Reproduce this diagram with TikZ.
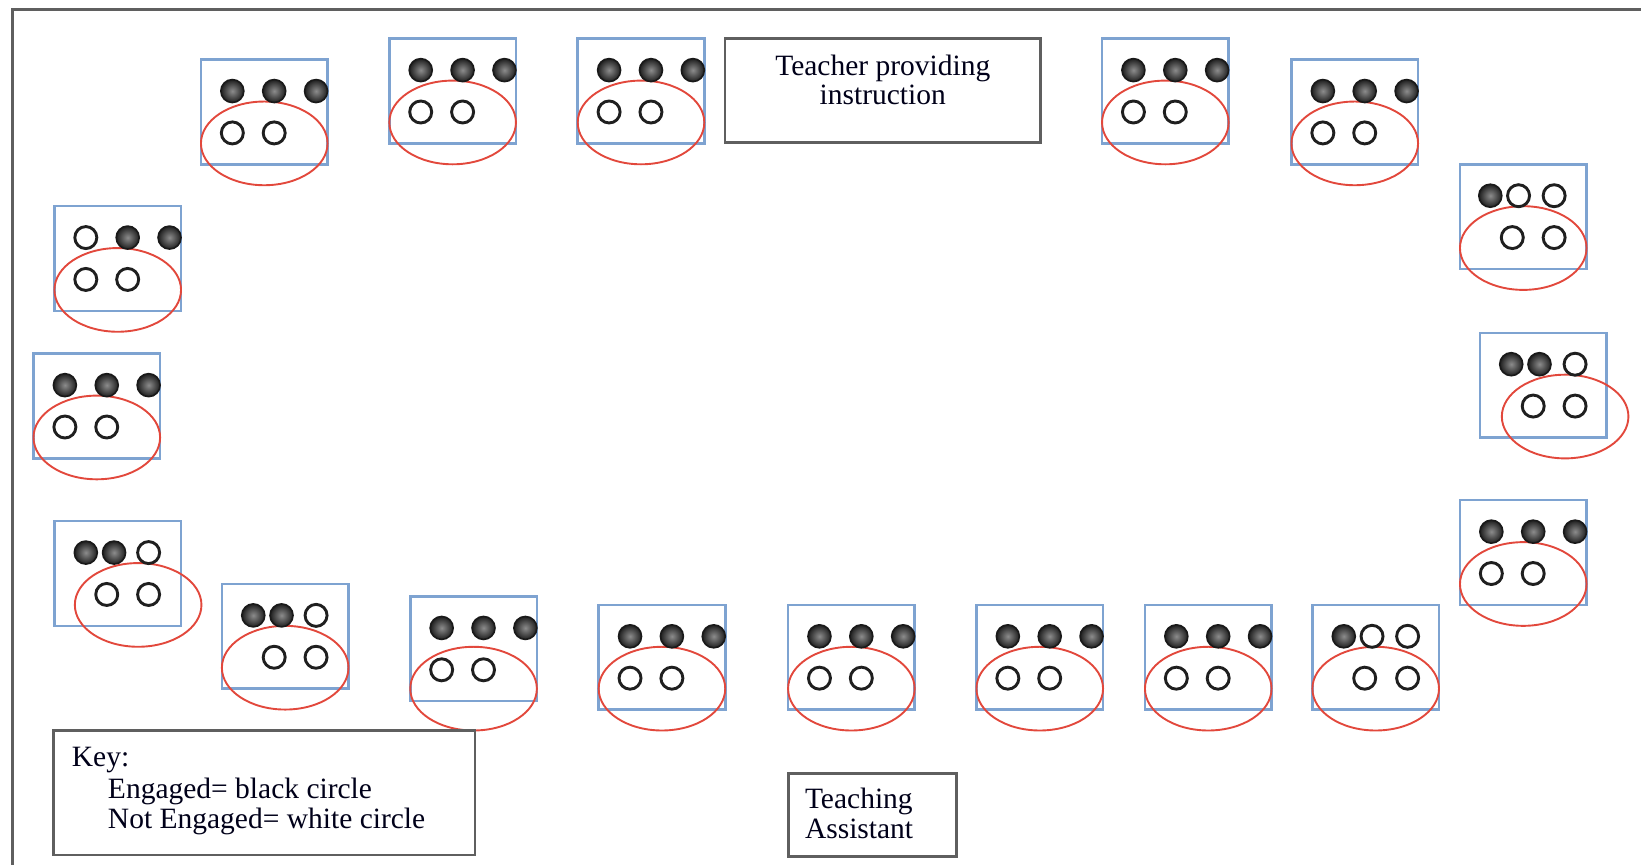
\documentclass[tikz,border=0pt]{standalone}
\usepackage{fontspec}
\setmainfont{Liberation Serif}
\usetikzlibrary{shapes.geometric}
\definecolor{deskblue}{RGB}{126,163,209}
\definecolor{ringred}{RGB}{226,72,60}
\definecolor{framegray}{RGB}{95,95,95}
\tikzset{
  deskrect/.style={draw=deskblue,line width=2.5pt,rectangle,minimum width=126.6pt,minimum height=104.7pt,inner sep=0pt},
  seatring/.style={draw=ringred,line width=1.9pt,ellipse,minimum width=126.6pt,minimum height=83.7pt,inner sep=0pt},
  blk/.style={circle,draw=black!90,line width=1.6pt,inner color=black!45,outer color=black!88,minimum size=23pt,inner sep=0pt},
  wht/.style={circle,draw=black!88,line width=2.9pt,fill=white,minimum size=22pt,inner sep=0pt},
  labelbox/.style={draw=framegray,line width=2.5pt,rectangle,inner sep=0pt},
  lbl/.style={font=\fontsize{29.5}{31}\selectfont,inner sep=0pt,text=black!90!blue},
}
\newcommand\desk[6]{%
  \begin{scope}[shift={(#2,#3)}]
    \node[deskrect] (#1) at (60.5,50) {};
    \node[seatring] (#1e) at (#6) {};
    \foreach \dx/\s [count=\i] in {#4} \node[\s] (#1t\i) at (\dx,30) {};
    \foreach \dx [count=\i] in {#5} \node[wht] (#1l\i) at (\dx,70) {};
  \end{scope}}
\begin{document}
\begin{tikzpicture}[x=1.046556pt,y=-1.046556pt]
\useasboundingbox (0,0) rectangle (1568,826.5);
% room frame (top and left walls)
\coordinate (fbl) at (11.5,826.5);
\coordinate (ftl) at (11.5,8.6);
\coordinate (ftr) at (1568,8.6);
\draw[framegray,line width=3pt] (fbl) -- (ftl) -- (ftr);
% top row
\desk{d1}{192}{57}{30/blk,70/blk,110/blk}{30,70}{60.5,80}
\desk{d2}{372}{37}{30/blk,70/blk,110/blk}{30,70}{60.5,80}
\desk{d3}{552}{37}{30/blk,70/blk,110/blk}{30,70}{60.5,80}
\desk{d4}{1053}{37}{30/blk,70/blk,110/blk}{30,70}{60.5,80}
\desk{d5}{1234}{57}{30/blk,70/blk,110/blk}{30,70}{60.5,80}
% right side
\desk{d6}{1395}{157}{29/blk,56/wht,90/wht}{50,90}{60.5,80}
\desk{d7}{1414}{318}{30/blk,57/blk,91/wht}{51,91}{81.5,80}
\desk{d8}{1395}{478}{30/blk,70/blk,110/blk}{30,70}{60.5,80}
% bottom row
\desk{d9}{1254}{578}{30/blk,57/wht,91/wht}{50,91}{60.5,80}
\desk{d10}{1094}{578}{30/blk,70/blk,110/blk}{30,70}{60.5,80}
\desk{d11}{933}{578}{30/blk,70/blk,110/blk}{30,70}{60.5,80}
\desk{d12}{753}{578}{30/blk,70/blk,110/blk}{30,70}{60.5,80}
\desk{d13}{572}{578}{30/blk,70/blk,110/blk}{30,70}{60.5,80}
\desk{d14}{392}{570}{30/blk,70/blk,110/blk}{30,70}{60.5,88}
\desk{d15}{212}{558}{30/blk,57/blk,90/wht}{50,90}{60.5,80}
% left side
\desk{d16}{52}{498}{30/blk,57/blk,90/wht}{50,90}{80,80}
\desk{d17}{32}{338}{30/blk,70/blk,110/blk}{30,70}{60.5,80}
\desk{d18}{52}{197}{30/wht,70/blk,110/blk}{30,70}{60.5,80}
% teacher
\node[labelbox,minimum width=315.7pt,minimum height=104.4pt] (teacher) at (843.5,86.5) {};
\node[lbl,anchor=base] (teacher1) at (843.5,71.7) {Teacher providing};
\node[lbl,anchor=base] (teacher2) at (843.5,100.3) {instruction};
% key
\node[labelbox,minimum width=421.6pt,minimum height=124.3pt] (key) at (252.4,757.5) {};
\node[lbl,anchor=base west] (key1) at (68.5,732.6) {Key:};
\node[lbl,anchor=base west] (key2) at (103,762.8) {Engaged= black circle};
\node[lbl,anchor=base west] (key3) at (103,791.5) {Not Engaged= white circle};
% teaching assistant
\node[labelbox,minimum width=168.3pt,minimum height=83.3pt] (ta) at (833.6,778.7) {};
\node[lbl,anchor=base west] (ta1) at (769,772.4) {Teaching};
\node[lbl,anchor=base west] (ta2) at (769,801) {Assistant};
\end{tikzpicture}
\end{document}
